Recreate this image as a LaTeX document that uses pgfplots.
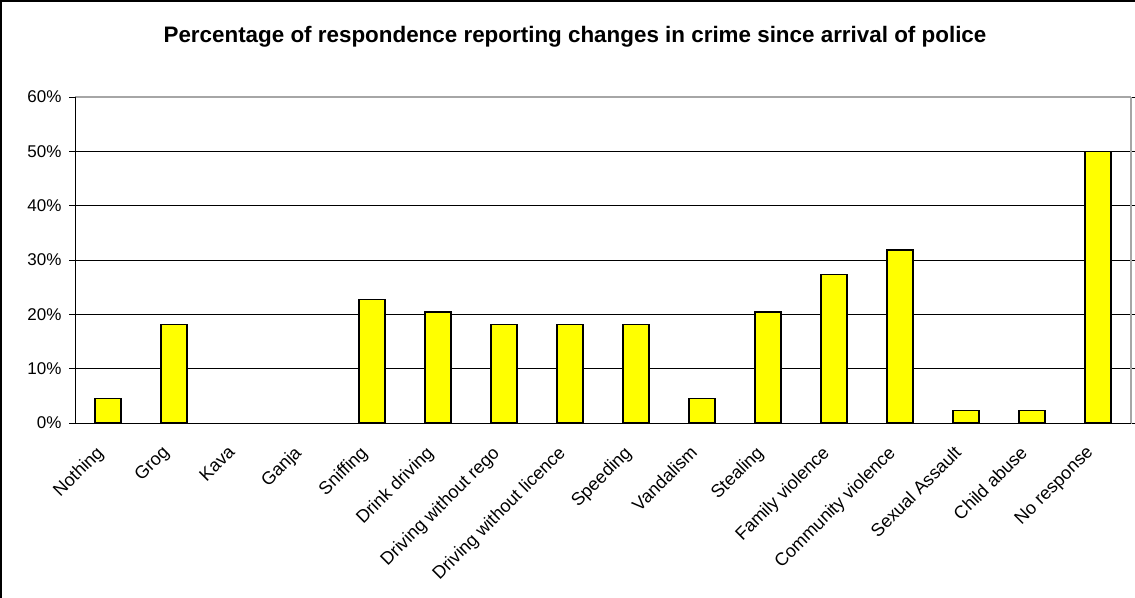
\documentclass[border=0pt]{standalone}
\usepackage{fontspec}
\setmainfont{Liberation Sans}
\usepackage{pgfplots}
\pgfplotsset{compat=1.18}
\definecolor{baryellow}{RGB}{255,255,0}
\begin{document}
\begin{tikzpicture}
\useasboundingbox (0,0) rectangle (1135bp,598bp);
\draw[line width=2bp] (1bp,0) -- (1bp,597bp) -- (1135bp,597bp);
\node[font=\fontsize{22.4bp}{25bp}\selectfont\bfseries] at (575bp,561bp) {Percentage of respondence reporting changes in crime since arrival of police};
\begin{axis}[
  at={(75bp,175bp)}, anchor=south west,
  scale only axis, width=1056bp, height=326bp,
  xmin=-0.5, xmax=15.5, ymin=0, ymax=60,
  axis line style={gray!70},
  xtick={0,...,15},
  xticklabels={Nothing,Grog,Kava,Ganja,Sniffing,Drink driving,Driving without rego,Driving without licence,Speeding,Vandalism,Stealing,Family violence,Community violence,Sexual Assault,Child abuse,No response},
  x tick label style={xshift=-13bp, yshift=-14bp, rotate=45, anchor=north east, inner sep=1bp, font=\fontsize{18bp}{20bp}\selectfont},
  major x tick style={draw=none},
  extra x ticks={-0.5,0.5,...,15.5},
  extra x tick labels={},
  extra x tick style={major tick length=6bp, tick align=outside, major tick style={black,draw=black}},
  ytick={0,10,...,60},
  yticklabel={\pgfmathprintnumber{\tick}\%},
  y tick label style={xshift=-4bp, font=\fontsize{17bp}{19bp}\selectfont, /pgf/number format/assume math mode=true},
  ytick style={black},
  tick align=outside,
  major tick length=6bp,
  ymajorgrids, major grid style={black, line width=0.8bp},
  tick style={black, line width=0.8bp},
  clip=false,
]
\addplot[ybar, bar width=26bp, fill=baryellow, draw=black, line width=1.3bp] coordinates {
(0,4.55) (1,18.18) (4,22.73) (5,20.45) (6,18.18) (7,18.18) (8,18.18) (9,4.55) (10,20.45) (11,27.27) (12,31.82) (13,2.27) (14,2.27) (15,50)
};
\draw[gray!70, line width=1bp] (axis cs:-0.5,60) -- (axis cs:15.5,60) -- (axis cs:15.5,0);
\draw[black, line width=1bp] (axis cs:-0.5,60) -- (axis cs:-0.5,0) -- (axis cs:15.5,0);
\end{axis}
\end{tikzpicture}
\end{document}
